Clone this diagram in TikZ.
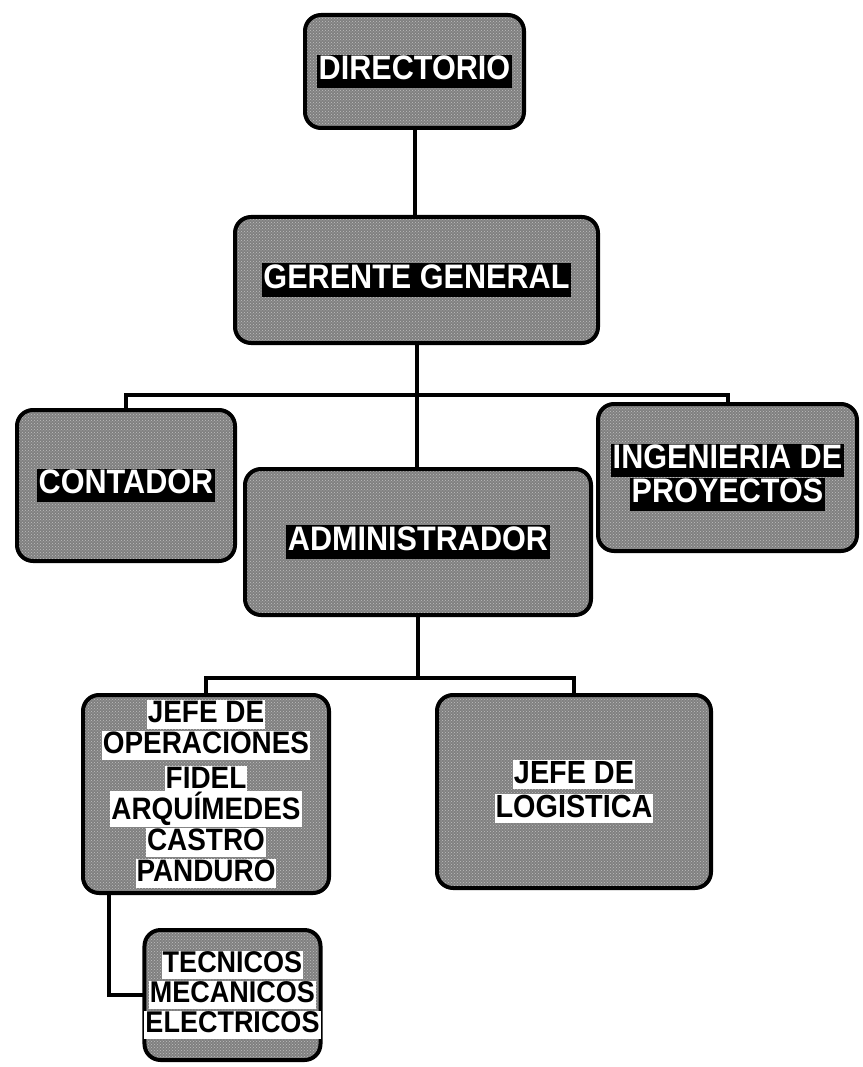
\documentclass[tikz,border=0pt]{standalone}
\usepackage{fontspec}
\setmainfont{Liberation Sans}
\newfontfamily\orgfont{Liberation Sans}[FakeStretch=0.9]
\usetikzlibrary{patterns}
\newcommand\wl[1]{{\setlength\fboxsep{1.5pt}\colorbox{black}{\rule[-7pt]{0pt}{30pt}\textcolor{white}{#1}}}}
\newcommand\bl[1]{{\setlength\fboxsep{1pt}\colorbox{white}{\rule[-5pt]{0pt}{25pt}\textcolor{black}{#1}}}}
\begin{document}
\setlength{\lineskiplimit}{-100pt}
\begin{tikzpicture}[x=1pt,y=-1pt,
  orgbox/.style={draw=black, line width=4pt, rounded corners=16pt,
    preaction={fill=black!50},
    preaction={pattern=crosshatch dots, pattern color=white!75!black},
    inner sep=0pt, outer sep=0pt, align=center,
    font=\orgfont\bfseries\fontsize{34}{34}\selectfont},
  lowbox/.style={orgbox, font=\orgfont\bfseries\fontsize{31}{31}\selectfont},
  conn/.style={line width=4pt, black, line join=miter}]
\useasboundingbox (0,0) rectangle (862,1067);

\node[orgbox, minimum width=219pt, minimum height=113pt] (dir) at (414.5,71.5) {\wl{DIRECTORIO}};
\node[orgbox, minimum width=363pt, minimum height=126pt] (ger) at (416.5,280) {\wl{GERENTE GENERAL}};
\node[orgbox, minimum width=218pt, minimum height=151pt] (cont) at (126,485.5) {\wl{CONTADOR}};
\node[orgbox, minimum width=346pt, minimum height=146pt] (adm) at (418,542) {\wl{ADMINISTRADOR}};
\node[orgbox, minimum width=259pt, minimum height=147pt] (ing) at (727.5,477.5) {\wl{INGENIERIA DE}\\\wl{PROYECTOS}};
\node[lowbox, minimum width=246pt, minimum height=198pt] (jop) at (206,794)
  {\bl{JEFE DE}\\\bl{OPERACIONES}\\[4pt]\bl{FIDEL}\\\bl{ARQUÍMEDES}\\\bl{CASTRO}\\\bl{PANDURO}};
\node[lowbox, minimum width=274pt, minimum height=193pt, font=\orgfont\bfseries\fontsize{32}{34}\selectfont] (jlog) at (574,791.5) {\bl{JEFE DE}\\\bl{LOGISTICA}};
\node[lowbox, minimum width=175pt, minimum height=130pt, font=\orgfont\bfseries\fontsize{30}{30}\selectfont] (tec) at (232.5,995)
  {\bl{TECNICOS}\\\bl{MECANICOS}\\\bl{ELECTRICOS}};

\coordinate (b1) at (417,395);
\coordinate (b2) at (418,678);

\draw[conn] (dir.south) -- (dir.south |- ger.north);
\draw[conn] (ger.south) -- (ger.south |- adm.north);
\draw[conn] (cont.north) -- (cont.north |- b1) -- (ing.north |- b1) -- (ing.north);
\draw[conn] (adm.south) -- (adm.south |- b2);
\draw[conn] (jop.north) -- (jop.north |- b2) -- (jlog.north |- b2) -- (jlog.north);
\draw[conn] ([xshift=26pt]jop.south west) |- (tec.west);
\end{tikzpicture}
\end{document}
